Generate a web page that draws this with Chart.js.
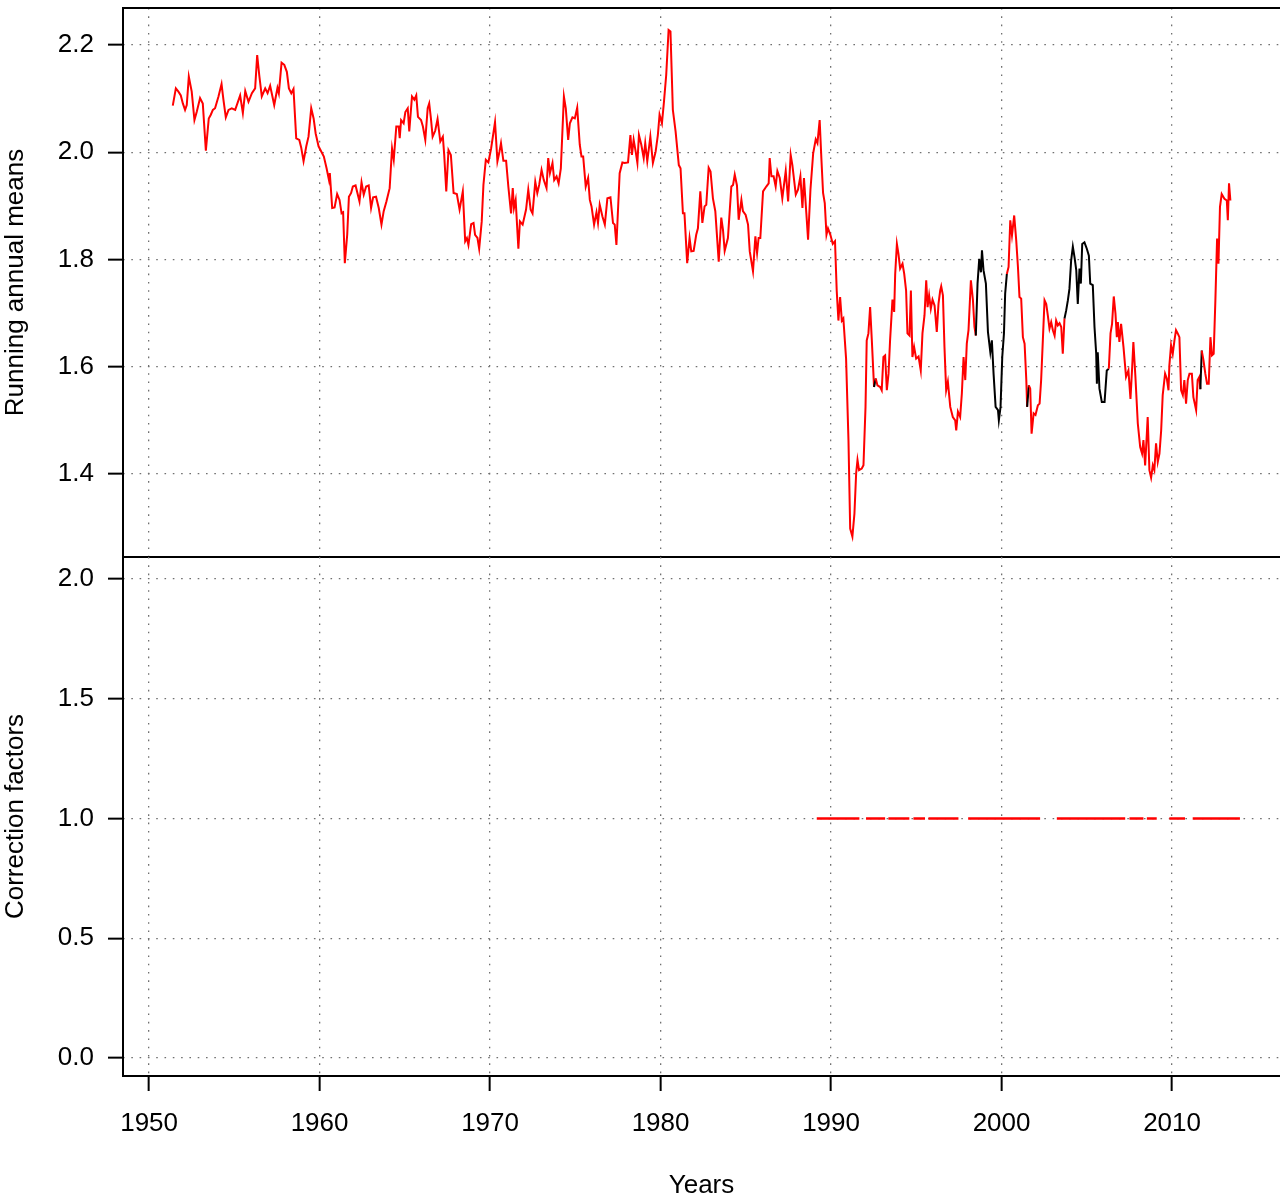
<!DOCTYPE html>
<html>
<head>
<meta charset="utf-8">
<script src="https://cdn.jsdelivr.net/npm/chart.js@4"></script>
<style>
  html, body { margin: 0; padding: 0; background: #fff; }
  #wrap { position: relative; width: 1280px; height: 1199px; overflow: hidden; }
  canvas { position: absolute; left: 0; }
  #meansChart { top: 0; }
  #corrChart { top: 550px; }
</style>
</head>
<body>
<div id="wrap">
  <canvas id="meansChart" width="1280" height="560"></canvas>
  <canvas id="corrChart" width="1280" height="649"></canvas>
</div>
<script>
/* running annual means (decimal years) */
const years = [
  1951.39, 1951.57, 1951.72, 1951.86, 1951.98, 1952.11, 1952.21, 1952.33, 1952.50, 1952.66,
  1952.80, 1952.99, 1953.15, 1953.33, 1953.50, 1953.62, 1953.74, 1953.87, 1954.07, 1954.25,
  1954.36, 1954.50, 1954.66, 1954.85, 1955.05, 1955.34, 1955.50, 1955.64, 1955.83, 1956.03,
  1956.22, 1956.34, 1956.46, 1956.61, 1956.81, 1956.95, 1957.10, 1957.34, 1957.53, 1957.61,
  1957.77, 1957.93, 1958.08, 1958.20, 1958.34, 1958.47, 1958.63, 1958.81, 1958.92, 1959.06,
  1959.22, 1959.35, 1959.51, 1959.65, 1959.77, 1959.94, 1960.25, 1960.41, 1960.55, 1960.60,
  1960.74, 1960.88, 1961.03, 1961.17, 1961.29, 1961.38, 1961.48, 1961.62, 1961.72, 1961.85,
  1961.95, 1962.11, 1962.34, 1962.46, 1962.59, 1962.73, 1962.88, 1963.02, 1963.14, 1963.31,
  1963.47, 1963.63, 1963.76, 1963.92, 1964.11, 1964.25, 1964.35, 1964.50, 1964.64, 1964.70,
  1964.78, 1964.93, 1965.03, 1965.17, 1965.26, 1965.42, 1965.56, 1965.67, 1965.77, 1965.95,
  1966.06, 1966.20, 1966.34, 1966.43, 1966.53, 1966.63, 1966.78, 1966.92, 1967.08, 1967.23,
  1967.31, 1967.43, 1967.56, 1967.70, 1967.86, 1968.05, 1968.21, 1968.40, 1968.54, 1968.64,
  1968.73, 1968.89, 1969.03, 1969.12, 1969.26, 1969.36, 1969.51, 1969.61, 1969.75, 1969.90,
  1970.06, 1970.29, 1970.43, 1970.55, 1970.64, 1970.78, 1970.94, 1971.07, 1971.23, 1971.33,
  1971.40, 1971.50, 1971.66, 1971.75, 1971.91, 1972.11, 1972.24, 1972.38, 1972.49, 1972.65,
  1972.77, 1972.88, 1973.02, 1973.15, 1973.31, 1973.41, 1973.51, 1973.66, 1973.76, 1973.90,
  1974.02, 1974.15, 1974.33, 1974.44, 1974.58, 1974.68, 1974.83, 1974.97, 1975.11, 1975.26,
  1975.36, 1975.46, 1975.61, 1975.75, 1975.85, 1975.95, 1976.10, 1976.24, 1976.33, 1976.43,
  1976.59, 1976.73, 1976.88, 1977.06, 1977.21, 1977.31, 1977.41, 1977.60, 1977.76, 1977.89,
  1978.09, 1978.23, 1978.32, 1978.42, 1978.54, 1978.64, 1978.73, 1978.87, 1979.01, 1979.10,
  1979.22, 1979.40, 1979.55, 1979.71, 1979.84, 1979.94, 1980.08, 1980.19, 1980.33, 1980.47,
  1980.58, 1980.72, 1980.88, 1981.07, 1981.17, 1981.31, 1981.40, 1981.56, 1981.70, 1981.80,
  1981.94, 1982.09, 1982.19, 1982.33, 1982.45, 1982.58, 1982.68, 1982.82, 1982.93, 1983.07,
  1983.21, 1983.41, 1983.56, 1983.66, 1983.76, 1983.95, 1984.15, 1984.25, 1984.35, 1984.48,
  1984.58, 1984.74, 1984.83, 1984.99, 1985.13, 1985.23, 1985.42, 1985.56, 1985.66, 1985.75,
  1985.85, 1986.01, 1986.20, 1986.34, 1986.40, 1986.50, 1986.63, 1986.75, 1986.85, 1986.99,
  1987.14, 1987.34, 1987.48, 1987.63, 1987.73, 1987.93, 1988.06, 1988.20, 1988.32, 1988.41,
  1988.55, 1988.65, 1988.79, 1988.95, 1989.10, 1989.20, 1989.33, 1989.43, 1989.53, 1989.63,
  1989.73, 1989.82, 1989.96, 1990.10, 1990.23, 1990.33, 1990.43, 1990.53, 1990.63, 1990.72,
  1990.88, 1991.02, 1991.12, 1991.25, 1991.37, 1991.47, 1991.55, 1991.64, 1991.80, 1991.90,
  1992.02, 1992.09, 1992.19, 1992.29, 1992.39, 1992.52, 1992.62, 1992.72, 1992.88, 1992.97,
  1993.07, 1993.17, 1993.27, 1993.37, 1993.46, 1993.60, 1993.70, 1993.76, 1993.86, 1993.95,
  1994.05, 1994.19, 1994.29, 1994.40, 1994.48, 1994.60, 1994.68, 1994.77, 1994.87, 1994.99,
  1995.13, 1995.26, 1995.36, 1995.48, 1995.58, 1995.66, 1995.75, 1995.85, 1995.95, 1996.07,
  1996.20, 1996.30, 1996.40, 1996.46, 1996.56, 1996.65, 1996.75, 1996.85, 1996.99, 1997.14,
  1997.28, 1997.34, 1997.44, 1997.57, 1997.67, 1997.77, 1997.87, 1997.96, 1998.06, 1998.20,
  1998.32, 1998.41, 1998.49, 1998.59, 1998.69, 1998.79, 1998.85, 1998.94, 1999.08, 1999.20,
  1999.34, 1999.43, 1999.53, 1999.65, 1999.79, 1999.84, 1999.94, 2000.04, 2000.14, 2000.21,
  2000.31, 2000.41, 2000.51, 2000.61, 2000.74, 2000.86, 2000.96, 2001.05, 2001.15, 2001.25,
  2001.35, 2001.45, 2001.50, 2001.60, 2001.68, 2001.76, 2001.88, 2001.99, 2002.13, 2002.23,
  2002.32, 2002.42, 2002.52, 2002.62, 2002.71, 2002.81, 2002.91, 2003.01, 2003.11, 2003.20,
  2003.30, 2003.40, 2003.50, 2003.59, 2003.69, 2003.79, 2003.89, 2003.98, 2004.08, 2004.18,
  2004.28, 2004.38, 2004.47, 2004.57, 2004.65, 2004.73, 2004.86, 2005.00, 2005.12, 2005.20,
  2005.35, 2005.45, 2005.55, 2005.59, 2005.64, 2005.74, 2005.88, 2006.04, 2006.17, 2006.29,
  2006.39, 2006.48, 2006.58, 2006.68, 2006.76, 2006.82, 2006.91, 2007.01, 2007.15, 2007.30,
  2007.44, 2007.56, 2007.66, 2007.73, 2007.85, 2007.99, 2008.13, 2008.24, 2008.32, 2008.42,
  2008.52, 2008.57, 2008.67, 2008.77, 2008.87, 2008.96, 2009.06, 2009.16, 2009.26, 2009.36,
  2009.45, 2009.59, 2009.69, 2009.79, 2009.84, 2009.94, 2010.04, 2010.14, 2010.23, 2010.33,
  2010.43, 2010.53, 2010.63, 2010.72, 2010.82, 2010.92, 2011.02, 2011.16, 2011.25, 2011.41,
  2011.50, 2011.60, 2011.66, 2011.74, 2011.84, 2011.95, 2012.05, 2012.15, 2012.25, 2012.34,
  2012.44, 2012.54, 2012.64, 2012.72, 2012.81, 2012.91, 2013.07, 2013.21, 2013.27, 2013.34,
  2013.42
];
const means = [
  2.087, 2.119, 2.113, 2.106, 2.091, 2.079, 2.088, 2.141, 2.113, 2.060,
  2.076, 2.101, 2.091, 2.003, 2.063, 2.070, 2.079, 2.082, 2.104, 2.127,
  2.098, 2.065, 2.079, 2.082, 2.079, 2.106, 2.073, 2.114, 2.094, 2.110,
  2.119, 2.181, 2.144, 2.104, 2.119, 2.110, 2.124, 2.088, 2.120, 2.110,
  2.167, 2.163, 2.150, 2.119, 2.110, 2.118, 2.026, 2.023, 2.009, 1.983,
  2.011, 2.029, 2.082, 2.063, 2.035, 2.011, 1.992, 1.970, 1.948, 1.961,
  1.896, 1.897, 1.922, 1.911, 1.886, 1.888, 1.793, 1.846, 1.917, 1.924,
  1.936, 1.938, 1.908, 1.944, 1.921, 1.936, 1.938, 1.896, 1.916, 1.917,
  1.896, 1.865, 1.890, 1.908, 1.933, 2.007, 1.986, 2.048, 2.048, 2.026,
  2.060, 2.054, 2.075, 2.082, 2.039, 2.104, 2.098, 2.106, 2.066, 2.060,
  2.048, 2.023, 2.082, 2.091, 2.063, 2.029, 2.040, 2.062, 2.020, 2.029,
  1.995, 1.927, 2.004, 1.995, 1.924, 1.922, 1.893, 1.927, 1.834, 1.840,
  1.827, 1.866, 1.868, 1.846, 1.840, 1.820, 1.871, 1.939, 1.986, 1.981,
  2.007, 2.056, 1.983, 2.001, 2.017, 1.984, 1.984, 1.936, 1.886, 1.933,
  1.896, 1.911, 1.820, 1.871, 1.865, 1.893, 1.930, 1.893, 1.886, 1.945,
  1.924, 1.939, 1.967, 1.948, 1.933, 1.989, 1.961, 1.980, 1.948, 1.955,
  1.942, 1.970, 2.104, 2.082, 2.023, 2.054, 2.065, 2.063, 2.083, 2.014,
  1.992, 1.992, 1.936, 1.952, 1.911, 1.899, 1.865, 1.888, 1.868, 1.902,
  1.880, 1.865, 1.914, 1.916, 1.868, 1.865, 1.827, 1.961, 1.981, 1.980,
  1.981, 2.032, 1.995, 2.023, 2.001, 1.980, 2.032, 2.014, 1.989, 2.017,
  1.983, 2.029, 1.980, 2.001, 2.032, 2.070, 2.054, 2.091, 2.144, 2.228,
  2.225, 2.079, 2.039, 1.976, 1.970, 1.886, 1.886, 1.793, 1.840, 1.815,
  1.816, 1.846, 1.858, 1.927, 1.868, 1.899, 1.902, 1.971, 1.964, 1.914,
  1.890, 1.796, 1.878, 1.855, 1.816, 1.840, 1.936, 1.939, 1.958, 1.938,
  1.874, 1.911, 1.890, 1.883, 1.865, 1.815, 1.778, 1.843, 1.812, 1.840,
  1.840, 1.927, 1.936, 1.942, 1.989, 1.955, 1.955, 1.936, 1.965, 1.952,
  1.914, 1.965, 1.908, 1.995, 1.976, 1.921, 1.930, 1.955, 1.896, 1.952,
  1.886, 1.837, 1.930, 1.998, 2.024, 2.017, 2.060, 1.989, 1.924, 1.905,
  1.846, 1.858, 1.846, 1.829, 1.834, 1.742, 1.686, 1.730, 1.686, 1.690,
  1.615, 1.463, 1.298, 1.283, 1.326, 1.401, 1.426, 1.407, 1.410, 1.416,
  1.525, 1.649, 1.662, 1.711, 1.649, 1.562, 1.578, 1.565, 1.562, 1.556,
  1.618, 1.621, 1.556, 1.587, 1.649, 1.725, 1.702, 1.773, 1.829, 1.811,
  1.783, 1.792, 1.773, 1.742, 1.662, 1.658, 1.742, 1.618, 1.637, 1.615,
  1.619, 1.593, 1.662, 1.696, 1.761, 1.711, 1.733, 1.708, 1.725, 1.714,
  1.665, 1.717, 1.742, 1.750, 1.733, 1.637, 1.556, 1.572, 1.525, 1.506,
  1.500, 1.481, 1.516, 1.506, 1.550, 1.618, 1.575, 1.643, 1.668, 1.761,
  1.724, 1.674, 1.658, 1.755, 1.801, 1.776, 1.817, 1.780, 1.755, 1.665,
  1.627, 1.649, 1.587, 1.525, 1.519, 1.500, 1.525, 1.618, 1.662, 1.736,
  1.773, 1.786, 1.873, 1.845, 1.882, 1.835, 1.786, 1.730, 1.727, 1.655,
  1.643, 1.575, 1.525, 1.565, 1.559, 1.475, 1.513, 1.510, 1.528, 1.531,
  1.575, 1.649, 1.724, 1.717, 1.696, 1.671, 1.683, 1.668, 1.658, 1.686,
  1.677, 1.681, 1.674, 1.624, 1.690, 1.705, 1.724, 1.745, 1.798, 1.824,
  1.804, 1.780, 1.717, 1.783, 1.755, 1.829, 1.832, 1.820, 1.807, 1.755,
  1.752, 1.674, 1.624, 1.568, 1.627, 1.559, 1.534, 1.534, 1.593, 1.596,
  1.662, 1.680, 1.731, 1.699, 1.655, 1.683, 1.646, 1.680, 1.637, 1.581,
  1.593, 1.540, 1.599, 1.646, 1.581, 1.494, 1.450, 1.438, 1.463, 1.416,
  1.475, 1.506, 1.407, 1.393, 1.416, 1.407, 1.457, 1.422, 1.438, 1.481,
  1.547, 1.587, 1.578, 1.556, 1.602, 1.640, 1.624, 1.649, 1.668, 1.662,
  1.655, 1.556, 1.547, 1.575, 1.531, 1.575, 1.587, 1.587, 1.543, 1.519,
  1.575, 1.581, 1.558, 1.630, 1.612, 1.587, 1.568, 1.568, 1.655, 1.621,
  1.624, 1.724, 1.839, 1.792, 1.898, 1.922, 1.913, 1.910, 1.873, 1.942,
  1.910
];

/* stretches where the line shows black instead of red */
const blackFrom = [1992.50, 1998.45, 2001.48, 2003.62, 2011.64];
const blackTo   = [1992.66, 2000.40, 2001.66, 2006.30, 2011.80];

/* correction factor stretches (all at 1.0) */
const corrFrom  = [1989.16, 1992.05, 1993.36, 1994.83, 1995.71, 1998.04, 2003.24, 2007.50, 2008.52, 2009.84, 2011.21];
const corrTo    = [1991.66, 1993.17, 1994.59, 1995.51, 1997.47, 2002.26, 2007.25, 2008.32, 2009.10, 2010.76, 2013.98];
const corrLevel = 1.0;

/* axis ranges */
const X_MIN = 1948.47, X_MAX = 2016.33;
const MEAN_MIN = 1.245, MEAN_MAX = 2.269;
const CORR_MIN = -0.075, CORR_MAX = 2.092;

/* ==========================================================================
   SHARED BITS
   ========================================================================== */
Chart.defaults.font.family = '"Liberation Sans", Arial, sans-serif';
Chart.defaults.font.size = 26;
Chart.defaults.color = '#000';

const grid = {
    color: '#707070',
    lineWidth: 1.3,
    tickLength: 15,
    tickColor: '#000',
    tickWidth: 2,
    tickBorderDash: []
};
const dotted = { display: false, dash: [1.6, 6.7] };

// R-style frame round the plot area
const frame = {
    id: 'frame',
    afterDraw(chart, args, opts) {
        const { ctx, chartArea: a } = chart;
        ctx.save();
        ctx.strokeStyle = '#000';
        ctx.lineWidth = 2;
        ctx.beginPath();
        (opts.sides || []).forEach(s => {
            if (s === 'top')    { ctx.moveTo(a.left - 1, a.top); ctx.lineTo(a.right + 2, a.top); }
            if (s === 'bottom') { ctx.moveTo(a.left - 1, a.bottom); ctx.lineTo(a.right + 2, a.bottom); }
            if (s === 'left')   { ctx.moveTo(a.left, a.top); ctx.lineTo(a.left, a.bottom); }
        });
        ctx.stroke();
        ctx.restore();
    }
};

const fixY = s => { s.width = 123; s.paddingTop = 0; s.paddingBottom = 0; };
const inBlack = x0 => blackFrom.some((a, i) => x0 >= a && x0 < blackTo[i]);

/* ==========================================================================
   TOP PANEL: running annual means
   ========================================================================== */
new Chart(document.getElementById('meansChart'), {
    type: 'line',
    data: {
        datasets: [{
            data: years.map((y, i) => ({ x: y, y: means[i] })),
            borderColor: '#ff0000',
            borderWidth: 2,
            pointRadius: 0,
            tension: 0,
            segment: {
                borderColor: ctx => (inBlack(ctx.p0.parsed.x) && inBlack(ctx.p1.parsed.x - 0.001)) ? '#000' : '#ff0000'
            }
        }]
    },
    options: {
        responsive: false,
        animation: false,
        devicePixelRatio: 1,
        layout: { padding: { top: 8, bottom: 3, left: 0, right: 0 } },
        plugins: { legend: { display: false }, tooltip: { enabled: false }, frame: { sides: ['top', 'left', 'bottom'] } },
        scales: {
            x: {
                type: 'linear', min: X_MIN, max: X_MAX,
                ticks: { display: false, stepSize: 10, includeBounds: false },
                grid: { ...grid, drawTicks: false },
                border: dotted,
                afterFit: s => { s.height = 0; s.paddingLeft = 0; s.paddingRight = 0; }
            },
            y: {
                min: MEAN_MIN, max: MEAN_MAX,
                ticks: { stepSize: 0.2, includeBounds: false, padding: 14, callback: v => v.toFixed(1) },
                grid: grid,
                border: dotted,
                title: { display: true, text: 'Running annual means', padding: { top: 0, bottom: 0 } },
                afterFit: fixY
            }
        }
    },
    plugins: [frame]
});

/* ==========================================================================
   BOTTOM PANEL: correction factors
   ========================================================================== */
const corrPoints = [];
corrFrom.forEach((a, i) => {
    corrPoints.push({ x: a, y: corrLevel }, { x: corrTo[i], y: corrLevel }, { x: corrTo[i], y: null });
});

new Chart(document.getElementById('corrChart'), {
    type: 'line',
    data: {
        datasets: [{
            data: corrPoints,
            borderColor: '#ff0000',
            borderWidth: 2.5,
            pointRadius: 0,
            spanGaps: false
        }]
    },
    options: {
        responsive: false,
        animation: false,
        devicePixelRatio: 1,
        layout: { padding: { top: 7, bottom: 0, left: 0, right: 0 } },
        plugins: { legend: { display: false }, tooltip: { enabled: false }, frame: { sides: ['left', 'bottom'] } },
        scales: {
            x: {
                type: 'linear', min: X_MIN, max: X_MAX,
                ticks: { stepSize: 10, includeBounds: false, padding: 17, maxRotation: 0, callback: v => String(v) },
                grid: grid,
                border: dotted,
                title: { display: true, text: 'Years', padding: { top: 13.6, bottom: -2 } },
                afterFit: s => { s.paddingLeft = 0; s.paddingRight = 0; }
            },
            y: {
                min: CORR_MIN, max: CORR_MAX,
                ticks: { stepSize: 0.5, includeBounds: false, padding: 14, callback: v => v.toFixed(1) },
                grid: grid,
                border: dotted,
                title: { display: true, text: 'Correction factors', padding: { top: 0, bottom: 0 } },
                afterFit: fixY
            }
        }
    },
    plugins: [frame]
});
</script>
</body>
</html>
